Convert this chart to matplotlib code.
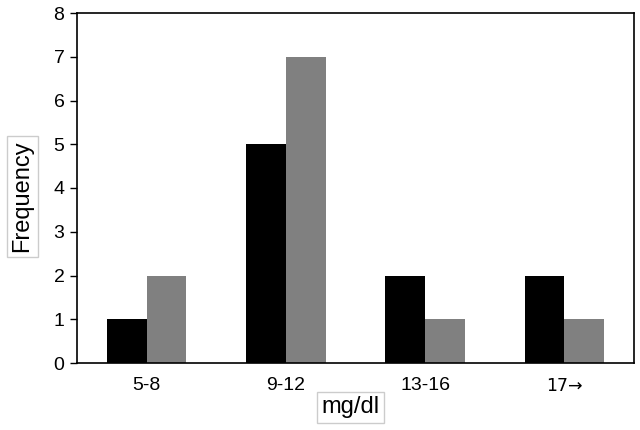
import matplotlib
matplotlib.use('Agg')
import matplotlib.pyplot as plt
import numpy as np

plt.rcParams['font.family'] = ['Liberation Sans', 'DejaVu Sans']

categories = ['5-8', '9-12', '13-16', '17\u2192']
series_a = [1, 5, 2, 2]
series_b = [2, 7, 1, 1]

fig = plt.figure(figsize=(6.4, 4.3), dpi=100)
ax = fig.add_axes([77 / 640, 1 - 363 / 430, (634 - 77) / 640, (363 - 13) / 430])

x = np.arange(len(categories))
w = 40 / 140
ax.bar(x - w / 2, series_a, width=w, color='black')
ax.bar(x + w / 2, series_b, width=w, color='#808080')

ax.set_xlim(-0.5, len(categories) - 0.5)
ax.set_ylim(0, 8)
ax.set_yticks(range(0, 9))
ax.set_xticks(x)
ax.set_xticklabels(categories, fontsize=14)
last = ax.get_xticklabels()[-1]
last.set_fontfamily(['DejaVu Sans'])
last.set_fontsize(12.5)
ax.tick_params(axis='y', labelsize=14, length=5, width=1, direction='out', pad=4)
ax.tick_params(axis='x', length=0, pad=10)
for s in ax.spines.values():
    s.set_linewidth(1.2)

box = dict(boxstyle='square,pad=0.2', facecolor='white', edgecolor='#cccccc', linewidth=1)
ax.set_ylabel('Frequency', fontsize=17, bbox=box)
ax.yaxis.set_label_coords(-0.078, 0.477)
ax.set_xlabel('mg/dl', fontsize=17, bbox=box)
ax.xaxis.set_label_coords(0.491, -0.095)

fig.savefig('out.png', dpi=100)
